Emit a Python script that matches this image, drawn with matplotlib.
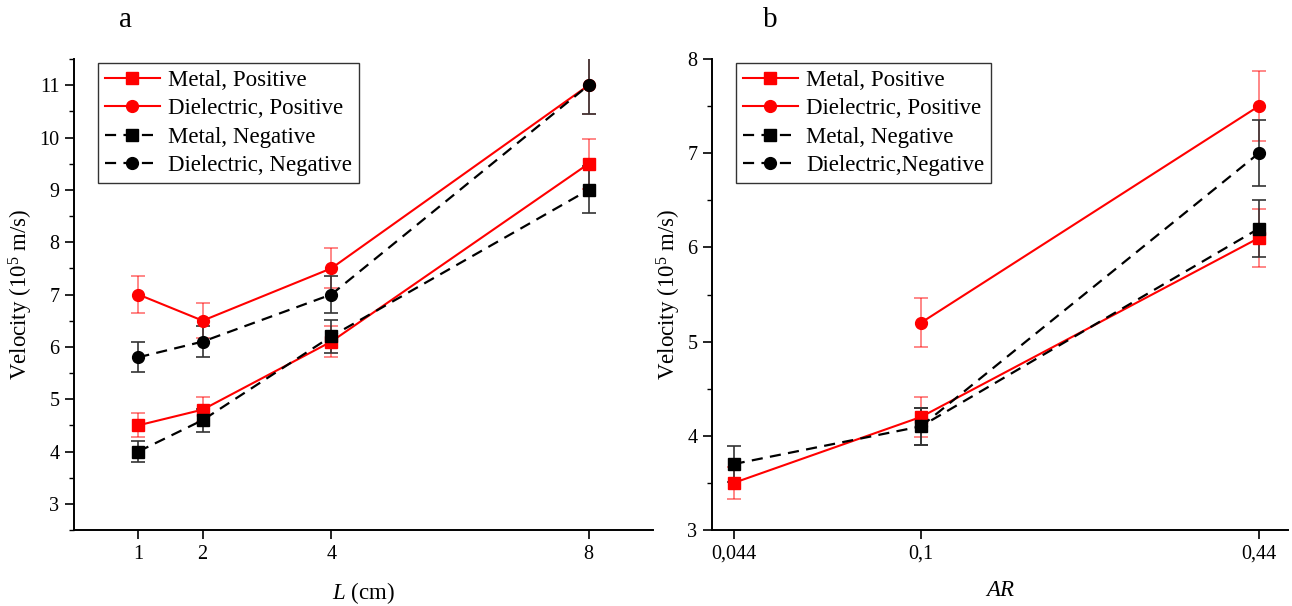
import matplotlib
matplotlib.use("Agg")
import matplotlib.pyplot as plt
from matplotlib.ticker import MultipleLocator, NullLocator, FixedLocator, FixedFormatter

plt.rcParams['font.family'] = ['Liberation Serif', 'DejaVu Serif']
plt.rcParams['mathtext.fontset'] = 'custom'
plt.rcParams['mathtext.rm'] = 'Liberation Serif'
plt.rcParams['mathtext.it'] = 'Liberation Serif:italic'

# ---------------- Panel a data ----------------
L_vals = [1, 2, 4, 8]
a_metal_pos = [4.5, 4.8, 6.1, 9.5]
a_metal_pos_err = [0.23, 0.24, 0.30, 0.48]
a_diel_pos = [7.0, 6.5, 7.5, 11.0]
a_diel_pos_err = [0.35, 0.33, 0.38, 0.55]
a_metal_neg = [4.0, 4.6, 6.2, 9.0]
a_metal_neg_err = [0.20, 0.22, 0.31, 0.45]
a_diel_neg = [5.8, 6.1, 7.0, 11.0]
a_diel_neg_err = [0.29, 0.30, 0.35, 0.55]
a_xticks = [1, 2, 4, 8]
a_xticklabels = ['1', '2', '4', '8']

# ---------------- Panel b data ----------------
AR_vals = [0.044, 0.1, 0.44]
b_metal_pos = [3.5, 4.2, 6.1]
b_metal_pos_err = [0.17, 0.21, 0.31]
AR_diel = [0.1, 0.44]
b_diel_pos = [5.2, 7.5]
b_diel_pos_err = [0.26, 0.37]
b_metal_neg = [3.7, 4.1, 6.2]
b_metal_neg_err = [0.19, 0.20, 0.30]
b_diel_neg = [4.1, 7.0]
b_diel_neg_err = [0.20, 0.35]
b_xticks = [0.044, 0.1, 0.44]
b_xticklabels = ['0,044', '0,1', '0,44']

labels_a = ['Metal, Positive', 'Dielectric, Positive', 'Metal, Negative', 'Dielectric, Negative']
labels_b = ['Metal, Positive', 'Dielectric, Positive', 'Metal, Negative', 'Dielectric,Negative']

W, H = 1292, 606
fig = plt.figure(figsize=(W / 100, H / 100), dpi=100)
axa = fig.add_axes([74 / W, 1 - 530 / H, (653 - 74) / W, (530 - 59) / H])
axb = fig.add_axes([712 / W, 1 - 530 / H, (1288 - 712) / W, (530 - 59) / H])

RED = '#ff0000'
RED_E = (1, 0, 0, 0.55)
BLK = 'black'
BLK_E = '#333333'
DASH = (5, 3.3)


def series(ax, x, y, e, color, ecolor, marker, ms, ls, lw, label):
    ax.errorbar(x, y, yerr=e, fmt='none', ecolor=ecolor, elinewidth=1.2,
                capsize=5, capthick=1.2, zorder=2)
    kw = dict(color=color, marker=marker, markersize=ms, lw=lw, label=label,
              markeredgecolor=color, markerfacecolor=color, zorder=3)
    if ls == 'dash':
        ax.plot(x, y, linestyle=(0, DASH), **kw)
    else:
        ax.plot(x, y, linestyle='-', **kw)


series(axa, L_vals, a_metal_pos, a_metal_pos_err, RED, RED_E, 's', 8, '-', 1.5, labels_a[0])
series(axa, L_vals, a_diel_pos, a_diel_pos_err, RED, RED_E, 'o', 8.5, '-', 1.5, labels_a[1])
series(axa, L_vals, a_metal_neg, a_metal_neg_err, BLK, BLK_E, 's', 8, 'dash', 1.6, labels_a[2])
series(axa, L_vals, a_diel_neg, a_diel_neg_err, BLK, BLK_E, 'o', 8.5, 'dash', 1.6, labels_a[3])

series(axb, AR_vals, b_metal_pos, b_metal_pos_err, RED, RED_E, 's', 8, '-', 1.5, labels_b[0])
series(axb, AR_diel, b_diel_pos, b_diel_pos_err, RED, RED_E, 'o', 8.5, '-', 1.5, labels_b[1])
series(axb, AR_vals, b_metal_neg, b_metal_neg_err, BLK, BLK_E, 's', 8, 'dash', 1.6, labels_b[2])
series(axb, AR_diel, b_diel_neg, b_diel_neg_err, BLK, BLK_E, 'o', 8.5, 'dash', 1.6, labels_b[3])

# axes a
axa.set_xlim(0, 9)
axa.set_ylim(2.5, 11.5)
axa.xaxis.set_major_locator(FixedLocator(a_xticks))
axa.xaxis.set_major_formatter(FixedFormatter(a_xticklabels))
axa.xaxis.set_minor_locator(NullLocator())
axa.yaxis.set_major_locator(MultipleLocator(1))
axa.yaxis.set_minor_locator(MultipleLocator(0.5))

# axes b
axb.set_xscale('log')
axb.set_xlim(0.04, 0.5)
axb.set_ylim(3, 8)
axb.xaxis.set_major_locator(FixedLocator(b_xticks))
axb.xaxis.set_major_formatter(FixedFormatter(b_xticklabels))
axb.xaxis.set_minor_locator(NullLocator())
axb.yaxis.set_major_locator(MultipleLocator(1))
axb.yaxis.set_minor_locator(MultipleLocator(0.5))

for ax in (axa, axb):
    for s in ('top', 'right'):
        ax.spines[s].set_visible(False)
    for s in ('left', 'bottom'):
        ax.spines[s].set_linewidth(1.4)
        ax.spines[s].set_color('black')
    ax.tick_params(axis='both', which='major', direction='out', length=6.5, width=1.2,
                   labelsize=14.5, pad=4)
    ax.tick_params(axis='both', which='minor', direction='out', length=3.5, width=1.0)
    ax.set_ylabel('Velocity (10$^{5}$ m/s)', fontsize=16.5, labelpad=3)
    leg = ax.legend(loc='upper left', bbox_to_anchor=(0.0415, 0.992), borderaxespad=0,
                    fontsize=16.5, frameon=True, fancybox=False, framealpha=1,
                    edgecolor='#333333', handlelength=2.4, handletextpad=0.35,
                    labelspacing=0.33, borderpad=0.3)
    leg.get_frame().set_linewidth(1.0)

axa.set_xlabel('$L$ (cm)', fontsize=16.5, labelpad=12)
axb.set_xlabel('AR', fontsize=16.5, fontstyle='italic', labelpad=12)

fig.text(125 / W, 1 - 20 / H, 'a', ha='center', va='center', fontsize=21)
fig.text(770 / W, 1 - 20 / H, 'b', ha='center', va='center', fontsize=21)

fig.savefig('out.png', dpi=100)
